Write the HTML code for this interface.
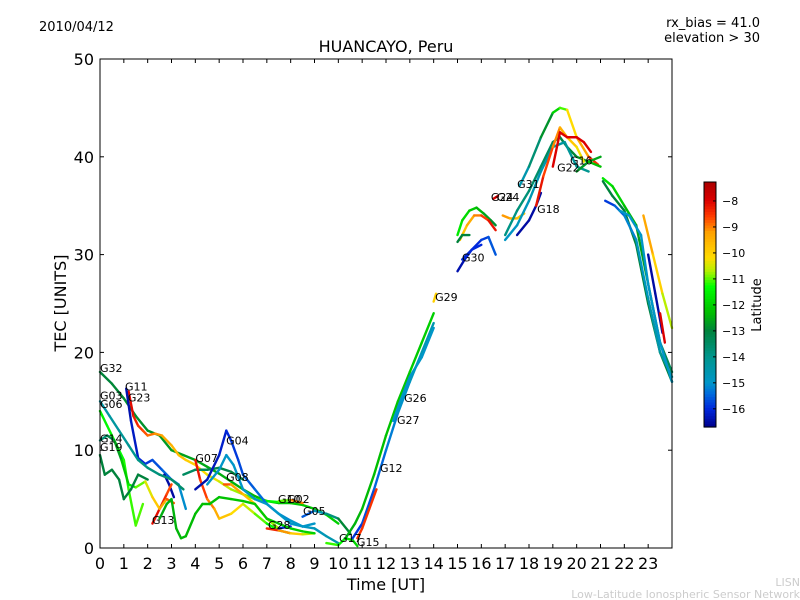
<!DOCTYPE html>
<html><head><meta charset="utf-8"><style>
body{margin:0;background:#fff;}
svg{display:block;font-family:"DejaVu Sans","Liberation Sans",sans-serif;}
</style></head><body>
<svg id="chart" width="800" height="600" viewBox="0 0 800 600">
<rect width="800" height="600" fill="#fff"/>
<text x="39" y="31" font-size="13">2010/04/12</text>
<text x="760" y="27" font-size="13" text-anchor="end">rx_bias = 41.0</text>
<text x="760" y="42" font-size="13" text-anchor="end">elevation &gt; 30</text>
<text x="386" y="52" font-size="16" text-anchor="middle">HUANCAYO, Peru</text>
<text x="386" y="590" font-size="16" text-anchor="middle">Time [UT]</text>
<text x="0" y="0" font-size="16" text-anchor="middle" transform="translate(66,303) rotate(-90)">TEC [UNITS]</text>
<text x="800" y="586" font-size="11" fill="#ccc" text-anchor="end">LISN</text>
<text x="800" y="598" font-size="11" fill="#ccc" text-anchor="end">Low-Latitude Ionospheric Sensor Network</text>
<g id="plot"></g>
<g id="cbar"></g>
</svg>
<script>
const xTicks=[0,1,2,3,4,5,6,7,8,9,10,11,12,13,14,15,16,17,18,19,20,21,22,23];
const yTicks=[0,10,20,30,40,50];
const cbarTicks=[-8,-9,-10,-11,-12,-13,-14,-15,-16];
const latMin=-16.7, latMax=-7.27;
const traceNames=["G32","G23","G11","G11b","G13","G03","G03b","G19","G14","G14b","G07","G04","G04b","G08","G28","G28b","G10","G05","G17","G12","R2","R3","R4","G29","G30","G30b","H1","H2","H3","G24","O1","G31","A2","A3","B1","G18","G22","G16","E1","E2","E3","E4","E5","E6","E7","G01"];
const traceTimes=[
[0,0.5,1,1.5,2,2.5,3,3.5,4,4.5,5,5.5,6,6.5,7,7.5,8,8.5,9,9.5,10],
[1.2,1.4,1.6,1.8,2,2.3,2.6,3,3.3,3.6,4,4.5,5,5.5,6,6.5,7,7.5],
[1.1,1.3,1.6,1.9,2.2,2.6,3,3.3,3.6],
[2.7,2.9,3.1],
[2.2,2.5,2.8,3.0],
[0,0.4,0.8,1.2,1.6,2,2.5,3,3.5],
[3.5,4,4.5,5,5.5,6],
[0,0.3,0.6,1,1.2,1.5,1.8],
[0,0.3,0.6,0.9,1.2,1.5,1.9,2.2,2.5,2.8,3.1],
[0,0.2,0.5,0.8,1,1.3,1.6,2],
[4,4.2,4.5,4.8,5,5.5,6,6.5,7,7.5,8],
[4,4.5,5,5.3,5.5,5.8,6,6.5,7,7.5,8,8.5,9,9.5,10],
[4.5,5,5.3,5.6,6,6.5,7,7.5,8,8.5,9],
[5.2,5.5,6,6.5,7,7.5],
[7,7.5,8,8.5,9],
[7.5,8],
[7.5,8,8.5],
[8.5,9,9.5,10,10.5],
[9.5,10,10.3,10.6,10.8],
[10.3,10.7,11,11.5,12,12.5,13,13.5,14],
[10.6,11,11.5,12,12.5,13,13.5,14],
[10.8,11,11.3,11.6],
[12.3,12.6,13,13.5,14],
[14,14.1],
[15,15.3,15.6,16,16.3,16.6],
[15.2,15.6,16],
[15,15.2,15.5,15.8,16.1,16.4,16.6],
[15.1,15.4,15.7,16,16.3,16.6],
[15,15.2,15.5],
[16.5,16.7],
[16.9,17.2,17.5,17.8],
[17.6,18,18.5,19,19.3,19.6,20,20.5,20.9],
[17,17.5,18,18.5,19,19.3,19.6,20,20.5,21],
[17,17.5,18,18.5,19,19.5,20,20.5],
[17.5,18,18.3,18.5],
[18.3,18.6,19,19.3,19.6,20,20.3],
[19,19.3,19.6,20,20.3,20.6],
[20,20.5,21],
[21.1,21.5,22,22.5,23,23.5,24],
[21.1,21.5,22,22.5,23,23.5,24],
[21.2,21.6,22,22.5,23,23.5,24],
[21.8,22.2,22.7,23,23.5,24],
[23,23.3,23.6],
[22.8,23.2,23.6,24],
[23.5,23.7],
[2.5,2.8,3,3.2,3.4,3.6,4,4.3,4.6,5,5.5,6,6.5,7,7.5,8,8.5,9]
];
const traceTEC=[
[18,16.8,15.3,13.5,12,11.5,10,9.5,9,8.3,7.6,6.8,6,5.3,4.8,4.6,4.6,4.4,4,3.4,2.5],
[16,13.5,12.5,12,11.5,11.7,11.5,10.5,9.5,9,8.5,7.5,6.8,6,5.5,5,4.8,4.7],
[16.3,13,9.2,8.6,9,8,7,6.5,4],
[7.5,6.5,5.2],
[2.5,4,5.5,6.5],
[15,13.5,12,10.5,9,8.2,7.5,7,6],
[7.5,8,8,8.2,7.8,7],
[14,12.5,11,9,6,2.3,4.5],
[11,11.5,11,9,6.5,6.2,6.8,5.2,4,5,4.6],
[9.5,7.5,8,7,5,6,7.5,7],
[9,7,5,4,3,3.5,4.5,3.5,2.5,1.8,1.5],
[6,7,9.5,12,11,9,7.5,6,4.5,3.5,2.8,2.2,2,1.2,0.5],
[6.5,8,9.5,8.5,6,5,4.5,3.5,2.5,2.2,2.5],
[6.5,6.5,5.5,4.5,3,2],
[2,1.8,1.5,1.4,1.5],
[2,2.2],
[4.8,4.9,4.6],
[3.2,3.8,3.5,3,1.5],
[0.5,0.3,1,0.8,0.2],
[1,2.5,4,7.5,11.5,15,18,21,24],
[1,2.5,6,10,13.8,17,20,23],
[1,2,4,6],
[13,15,17.5,19.5,22.5],
[25.2,26],
[28.3,29.5,30.5,31.5,31.8,30],
[29.5,30.5,31],
[32,33.5,34.5,34.8,34.2,33.5,33],
[31.5,33,34,34,33.5,32.5],
[31.3,32,32],
[35.7,36],
[34,33.7,33.7,34.2],
[37,39,42,44.5,45,44.8,42,40,39.2],
[32,34.5,36.5,39,41.5,42,41,40,39.5,40],
[31.5,33,35.5,38.5,41,41.5,39,38.5],
[32,33.5,35,36.3],
[35,38,41,43,42,41,39.5],
[39,42.5,42,42,41.5,40.5],
[38.5,39.5,39],
[37.8,37,35,33,27,21,18],
[37.5,36,34.5,31,25,20,17],
[35.5,35,34,31.5,25.5,20,17.5],
[34.5,34,32,27,21,17],
[30,26,22],
[34,30,26,22.5],
[24,21],
[3,4.5,5,2,1,1.2,3.5,4.5,4.5,5.2,5,4.8,4.5,3,2.5,2,1.7,1.5]
];
const traceLatStart=[-13,-8,-16.5,-16.5,-8,-14.5,-13.5,-11.5,-14,-13,-8,-16.5,-15,-8.5,-8,-16,-12,-16,-11,-12.5,-16,-8.5,-15,-10,-16.5,-16,-11.5,-10,-13,-8,-9,-15,-14,-15,-16.5,-8,-8,-13,-11.5,-13,-16,-15,-16.5,-9,-8,-12.5];
const traceLatEnd=[-12,-11.5,-15,-16.5,-8.8,-13.5,-13,-11,-8.5,-13,-12,-14.5,-15,-11,-11,-16,-8,-12.5,-12,-12,-14.5,-8.5,-15,-10,-15.5,-16,-13,-8,-13,-8,-10,-8,-12.5,-14,-16.5,-10.5,-8,-12,-13.5,-13,-14,-15,-16.5,-11,-8,-12];
const labelNames=["G32","G03","G06","G14","G19","G11","G23","G13","G07","G04","G08","G10","G02","G28","G05","G17","G15","G12","G27","G26","G29","G30","G24","G24","G31","G18","G22","G16"];
const labelT=[0,0,0,0,0,1.05,1.17,2.18,4,5.29,5.29,7.47,7.85,7.05,8.52,10.03,10.78,11.75,12.46,12.76,14.06,15.19,16.4,16.65,17.5,18.34,19.18,19.72];
const labelV=[18,15.2,14.3,10.8,9.9,16.1,15,2.45,8.8,10.6,6.85,4.6,4.6,1.94,3.37,0.6,0.2,7.77,12.68,14.93,25.26,29.3,35.5,35.5,36.8,34.25,38.5,39.2];

const X0=100,X1=672,Y0=548,Y1=59;
const xs=t=>X0+(t/24)*(X1-X0);
const ys=v=>Y0-(v/50)*(Y0-Y1);
const NS="http://www.w3.org/2000/svg";
const cmapStops=[[-16.7,0,0,140],[-16,0,40,220],[-15.4,0,110,220],[-15,0,150,200],[-14,0,150,140],[-13,0,130,60],[-12.3,0,190,0],[-11.3,0,255,0],[-10.7,180,240,0],[-10.2,255,220,0],[-9.2,255,160,0],[-8.6,255,60,0],[-8,220,0,0],[-7.27,170,0,0]];
function latColor(l){
 if(l<=cmapStops[0][0]){const s=cmapStops[0];return `rgb(${s[1]},${s[2]},${s[3]})`;}
 for(let i=0;i<cmapStops.length-1;i++){const a=cmapStops[i],b=cmapStops[i+1];
  if(l<=b[0]){const f=(l-a[0])/(b[0]-a[0]);const c=k=>Math.round(a[k]+(b[k]-a[k])*f);return `rgb(${c(1)},${c(2)},${c(3)})`;}}
 const s=cmapStops[cmapStops.length-1];return `rgb(${s[1]},${s[2]},${s[3]})`;}
function mk(tag,attrs,parent){const e=document.createElementNS(NS,tag);for(const k in attrs)e.setAttribute(k,attrs[k]);parent.appendChild(e);return e;}
const plot=document.getElementById('plot');
const frame=mk('rect',{x:X0,y:Y1,width:X1-X0,height:Y0-Y1,fill:'#fff',stroke:'none'},plot);


for(let i=0;i<traceTimes.length;i++){
 const g=mk('g',{},plot);
 
 
 const T=traceTimes[i],V=traceTEC[i],n=T.length;
 for(let j=0;j<n-1;j++){
  const f=(j+0.5)/(n-1);
  const lat=traceLatStart[i]+(traceLatEnd[i]-traceLatStart[i])*f;
  const s=mk('line',{x1:xs(T[j]),y1:ys(V[j]),x2:xs(T[j+1]),y2:ys(V[j+1]),stroke:latColor(lat),'stroke-width':2.4,'stroke-linecap':'round'},g);
  
  
 }
}
for(let i=0;i<labelNames.length;i++){
 const t=mk('text',{x:xs(labelT[i]),y:ys(labelV[i]),'font-size':11,fill:'#000'},plot);
 t.textContent=labelNames[i];
 
 
}
const border=mk('rect',{x:X0,y:Y1,width:X1-X0,height:Y0-Y1,fill:'none',stroke:'#000','stroke-width':1},plot);


xTicks.forEach(t=>{
 const x=xs(t);
 const a=mk('line',{x1:x,y1:Y0,x2:x,y2:Y0-4,stroke:'#000'},plot);
 
 
 const b=mk('line',{x1:x,y1:Y1,x2:x,y2:Y1+4,stroke:'#000'},plot);
 
 
 const l=mk('text',{x:x,y:569,'font-size':16,'text-anchor':'middle'},plot);
 l.textContent=t;
 
 
});
yTicks.forEach(v=>{
 const y=ys(v);
 const a=mk('line',{x1:X0,y1:y,x2:X0+4,y2:y,stroke:'#000'},plot);
 
 
 const b=mk('line',{x1:X1,y1:y,x2:X1-4,y2:y,stroke:'#000'},plot);
 
 
 const l=mk('text',{x:94,y:y+6,'font-size':16,'text-anchor':'end'},plot);
 l.textContent=v;
 
 
});
const cb=document.getElementById('cbar');
const CX=704,CW=12,CT=182,CB=427;
const steps=90;
for(let k=0;k<steps;k++){
 const lat=latMax-(latMax-latMin)*(k+0.5)/steps;
 const r=mk('rect',{x:CX,y:CT+(CB-CT)*k/steps,width:CW,height:(CB-CT)/steps+0.6,fill:latColor(lat)},cb);
 
 
}
const cbf=mk('rect',{x:CX,y:CT,width:CW,height:CB-CT,fill:'none',stroke:'#000'},cb);


const cy=l=>CB-(l-latMin)/(latMax-latMin)*(CB-CT);
cbarTicks.forEach(l=>{
 const y=cy(l);
 const a=mk('line',{x1:CX+CW-3,y1:y,x2:CX+CW,y2:y,stroke:'#000'},cb);
 
 
 const t=mk('text',{x:CX+CW+6,y:y+4,'font-size':11},cb);
 t.textContent='\u2212'+Math.abs(l);
 
 
});
const ct=mk('text',{x:0,y:0,'font-size':13,'text-anchor':'middle',transform:'translate(761,305) rotate(-90)'},cb);
ct.textContent='Latitude';


</script>
</body></html>
